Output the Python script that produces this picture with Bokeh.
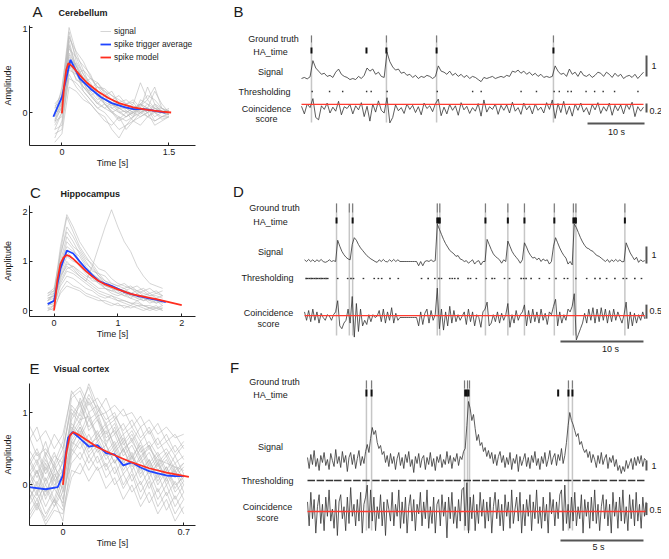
import numpy as np
from bokeh.plotting import figure
from bokeh.models import Range1d, Label, Legend, LegendItem, FixedTicker, CustomJSTickFormatter
from bokeh.layouts import column, row
from bokeh.embed import file_html
from bokeh.resources import INLINE

FONT = "Liberation Sans"

# ------------------------------------------------------------------ data
# Panel A - Cerebellum
a_trace_t = [-0.1, 0.0, 0.1, 0.2, 0.3, 0.4, 0.5, 0.6, 0.7, 0.8, 0.9, 1.0, 1.1, 1.2, 1.3, 1.4, 1.5]
a_traces = [
    [-0.05, 0.1, 0.95, 0.6, 0.45, 0.35, 0.2, 0.15, 0.1, 0.05, 0.0, 0.05, 0.1, 0.05, 0.0, 0.02, -0.02],
    [-0.2, -0.15, 0.55, 0.4, 0.3, 0.2, 0.1, 0.05, 0.0, -0.1, -0.05, 0.0, 0.05, -0.05, 0.0, -0.05, 0.0],
    [0.05, 0.25, 1.0, 0.7, 0.5, 0.4, 0.3, 0.25, 0.15, 0.1, 0.05, 0.05, 0.0, 0.05, 0.02, 0.0, 0.03],
    [-0.3, -0.1, 0.4, 0.35, 0.25, 0.15, 0.05, 0.0, -0.1, -0.2, -0.15, -0.05, 0.0, 0.05, -0.1, -0.05, -0.02],
    [0.0, 0.05, 0.7, 0.55, 0.4, 0.25, 0.3, 0.2, 0.25, 0.1, 0.05, 0.1, 0.35, 0.15, 0.05, 0.0, 0.05],
    [-0.1, 0.15, 0.85, 0.5, 0.3, 0.25, 0.15, 0.2, 0.05, 0.0, 0.02, -0.05, 0.05, 0.3, 0.1, 0.0, -0.03],
    [-0.15, 0.0, 0.6, 0.45, 0.5, 0.3, 0.2, 0.1, 0.0, 0.05, 0.1, 0.15, 0.05, 0.0, 0.1, 0.05, 0.0],
    [0.1, 0.2, 0.75, 0.65, 0.45, 0.3, 0.2, 0.15, 0.1, 0.0, -0.05, 0.0, 0.1, 0.2, 0.15, 0.05, 0.02],
    [-0.25, -0.2, 0.45, 0.3, 0.2, 0.1, 0.0, -0.05, -0.2, -0.3, -0.15, -0.1, -0.05, 0.0, -0.15, -0.1, -0.05],
    [0.05, 0.1, 0.65, 0.55, 0.35, 0.2, 0.25, 0.1, 0.05, 0.1, 0.05, 0.0, 0.1, 0.05, 0.25, 0.1, 0.0],
    [-0.05, 0.3, 0.9, 0.65, 0.55, 0.45, 0.25, 0.15, 0.1, 0.05, 0.05, 0.0, -0.05, 0.0, 0.05, 0.0, 0.02],
    [-0.1, -0.05, 0.5, 0.45, 0.3, 0.2, 0.1, 0.2, 0.15, 0.05, 0.0, -0.1, 0.0, 0.05, 0.0, -0.08, -0.05],
    [0.0, 0.1, 0.8, 0.55, 0.35, 0.4, 0.35, 0.25, 0.2, 0.15, 0.1, 0.05, 0.1, 0.0, 0.05, 0.05, 0.0],
    [-0.2, 0.0, 0.55, 0.5, 0.25, 0.15, 0.05, 0.1, 0.0, -0.05, -0.1, -0.05, 0.15, 0.1, 0.0, 0.0, -0.02],
    [0.08, 0.12, 0.68, 0.5, 0.42, 0.3, 0.22, 0.12, 0.08, 0.12, 0.02, -0.02, 0.05, 0.0, 0.08, 0.02, 0.0],
    [-0.35, -0.25, 0.3, 0.25, 0.15, 0.1, 0.0, -0.1, -0.15, -0.05, -0.2, -0.1, -0.15, -0.05, -0.1, -0.05, -0.05],
    [0.0, 0.2, 0.88, 0.72, 0.6, 0.42, 0.3, 0.28, 0.2, 0.12, 0.15, 0.08, 0.02, 0.1, 0.05, 0.02, 0.0],
    [-0.08, 0.05, 0.62, 0.38, 0.35, 0.22, 0.12, 0.05, 0.12, 0.02, -0.05, 0.02, 0.08, 0.15, 0.3, 0.05, -0.02],
    [0.02, 0.0, 0.52, 0.58, 0.4, 0.28, 0.35, 0.22, 0.15, 0.2, 0.1, 0.12, 0.0, -0.05, 0.02, 0.0, 0.02],
    [-0.12, 0.08, 0.78, 0.48, 0.38, 0.32, 0.18, 0.1, 0.02, -0.08, 0.0, 0.05, -0.02, 0.05, -0.05, 0.0, -0.02],
]
a_sta_t = [-0.12, 0.0, 0.12, 0.25, 0.4, 0.55, 0.7, 0.85, 1.0, 1.15, 1.3, 1.45]
a_sta_y = [-0.05, 0.18, 0.62, 0.40, 0.28, 0.18, 0.11, 0.07, 0.04, 0.04, 0.02, 0.0]
a_model_t = [0.0, 0.03, 0.06, 0.09, 0.15, 0.25, 0.35, 0.5, 0.65, 0.8, 1.0, 1.2, 1.4, 1.53]
a_model_y = [-0.01, 0.3, 0.5, 0.58, 0.54, 0.44, 0.35, 0.25, 0.17, 0.11, 0.06, 0.03, 0.01, 0.0]
a_xticks = [0, 1.5]
a_yticks = [0, 1]

# Panel C - Hippocampus
c_trace_t = [-0.1, 0.0, 0.1, 0.2, 0.3, 0.4, 0.5, 0.6, 0.7, 0.8, 0.9, 1.0, 1.1, 1.2, 1.3, 1.4, 1.5, 1.6, 1.7]
c_traces = [
    [0.2, 0.3, 1.2, 1.9, 1.6, 1.3, 1.1, 0.9, 0.7, 0.6, 0.5, 0.45, 0.4, 0.35, 0.3, 0.3, 0.25, 0.2, 0.2],
    [0.1, 0.15, 0.7, 1.0, 0.85, 0.7, 0.6, 0.5, 0.4, 0.35, 0.3, 0.25, 0.2, 0.15, 0.15, 0.1, 0.1, 0.05, 0.1],
    [0.3, 0.4, 1.0, 1.5, 1.3, 1.2, 1.0, 0.8, 0.75, 0.6, 0.55, 0.5, 0.45, 0.5, 0.4, 0.45, 0.35, 0.4, 0.3],
    [0.0, 0.1, 0.5, 0.7, 0.65, 0.55, 0.45, 0.4, 0.3, 0.25, 0.3, 0.2, 0.15, 0.1, 0.2, 0.1, 0.05, 0.1, 0.0],
    [0.2, 0.35, 1.3, 1.95, 1.7, 1.4, 1.2, 1.0, 0.85, 0.8, 0.65, 0.55, 0.5, 0.45, 0.4, 0.35, 0.3, 0.3, 0.25],
    [0.15, 0.2, 0.8, 1.2, 1.05, 0.9, 0.75, 0.6, 0.6, 0.45, 0.4, 0.35, 0.4, 0.3, 0.25, 0.3, 0.2, 0.25, 0.15],
    [0.35, 0.4, 0.7, 0.9, 0.8, 0.7, 0.6, 0.9, 1.3, 1.7, 2.05, 1.7, 1.4, 1.2, 0.9, 0.7, 0.55, 0.5, 0.45],
    [0.1, 0.2, 0.9, 1.4, 1.25, 1.0, 0.85, 0.7, 0.55, 0.5, 0.45, 0.35, 0.3, 0.25, 0.35, 0.25, 0.2, 0.15, 0.2],
    [0.25, 0.3, 0.6, 0.85, 0.9, 0.8, 0.7, 0.65, 0.55, 0.45, 0.4, 0.45, 0.35, 0.3, 0.3, 0.2, 0.25, 0.2, 0.15],
    [0.05, 0.0, 0.4, 0.6, 0.5, 0.45, 0.35, 0.3, 0.25, 0.15, 0.1, 0.15, 0.05, 0.1, 0.05, 0.0, 0.05, 0.0, 0.05],
    [0.3, 0.35, 1.1, 1.7, 1.5, 1.25, 1.05, 0.95, 0.75, 0.7, 0.55, 0.5, 0.55, 0.45, 0.5, 0.4, 0.45, 0.35, 0.4],
    [0.2, 0.25, 0.75, 1.1, 1.0, 0.95, 0.8, 0.7, 0.65, 0.5, 0.45, 0.4, 0.3, 0.35, 0.25, 0.2, 0.25, 0.15, 0.2],
    [0.05, 0.1, 0.55, 0.8, 0.75, 0.65, 0.55, 0.45, 0.35, 0.3, 0.25, 0.2, 0.2, 0.15, 0.1, 0.1, 0.05, 0.05, 0.05],
    [0.35, 0.45, 1.15, 1.6, 1.4, 1.15, 0.95, 0.85, 0.7, 0.55, 0.5, 0.45, 0.4, 0.45, 0.35, 0.4, 0.3, 0.35, 0.3],
    [0.15, 0.1, 0.65, 0.95, 0.9, 0.75, 0.65, 0.55, 0.45, 0.45, 0.35, 0.3, 0.35, 0.25, 0.2, 0.25, 0.15, 0.2, 0.1],
    [0.0, 0.05, 0.35, 0.5, 0.45, 0.4, 0.3, 0.25, 0.2, 0.2, 0.15, 0.1, 0.1, 0.05, 0.1, 0.05, 0.0, 0.05, 0.0],
    [0.25, 0.3, 0.95, 1.3, 1.2, 1.1, 0.9, 0.75, 0.65, 0.55, 0.5, 0.4, 0.45, 0.35, 0.4, 0.3, 0.35, 0.25, 0.3],
]
c_sta_t = [-0.1, 0.0, 0.1, 0.2, 0.3, 0.4, 0.5, 0.6, 0.7, 0.8, 0.9, 1.0, 1.1, 1.2, 1.3, 1.4, 1.5, 1.6, 1.75]
c_sta_y = [0.13, 0.2, 0.85, 1.22, 1.16, 1.0, 0.85, 0.72, 0.6, 0.55, 0.5, 0.44, 0.38, 0.34, 0.3, 0.27, 0.24, 0.22, 0.17]
c_model_t = [0.0, 0.05, 0.1, 0.15, 0.2, 0.25, 0.3, 0.4, 0.5, 0.6, 0.7, 0.8, 1.0, 1.2, 1.4, 1.6, 1.8, 2.0]
c_model_y = [0.0, 0.6, 0.95, 1.08, 1.13, 1.1, 1.05, 0.93, 0.8, 0.69, 0.6, 0.53, 0.43, 0.34, 0.28, 0.23, 0.17, 0.11]
c_xticks = [0, 1, 2]
c_yticks = [0, 1, 2]

# Panel E - Visual cortex
e_trace_t = [-0.2, -0.15, -0.1, -0.05, 0.0, 0.05, 0.1, 0.15, 0.2, 0.25, 0.3, 0.35, 0.4, 0.45, 0.5, 0.55, 0.6, 0.65, 0.7]
e_traces = [
    [0.2, -0.1, 0.3, 0.0, 0.1, 0.9, 1.1, 0.8, 0.95, 0.6, 0.7, 0.4, 0.55, 0.3, 0.45, 0.2, 0.35, 0.1, 0.25],
    [-0.3, -0.1, -0.4, -0.2, -0.5, 0.4, 0.6, 0.3, 0.5, 0.2, 0.35, 0.0, 0.2, -0.1, 0.1, -0.2, 0.0, -0.3, -0.1],
    [0.5, 0.3, 0.6, 0.2, 0.4, 1.2, 1.3, 1.0, 1.1, 0.8, 0.9, 0.6, 0.75, 0.5, 0.6, 0.4, 0.5, 0.3, 0.4],
    [-0.1, 0.2, -0.2, 0.1, -0.3, 0.6, 0.8, 0.5, 0.7, 0.55, 0.3, 0.5, 0.2, 0.4, 0.1, 0.3, 0.0, 0.2, -0.1],
    [0.0, -0.3, 0.1, -0.2, 0.2, 0.7, 0.9, 0.95, 0.6, 0.75, 0.45, 0.6, 0.3, 0.5, 0.2, 0.35, 0.05, 0.25, 0.1],
    [0.3, 0.5, 0.2, 0.45, 0.15, 1.0, 0.85, 1.15, 0.9, 0.7, 0.85, 0.55, 0.7, 0.45, 0.55, 0.3, 0.45, 0.2, 0.3],
    [-0.4, -0.2, -0.5, -0.3, -0.1, 0.3, 0.45, 0.2, 0.4, 0.1, 0.25, -0.05, 0.15, -0.2, 0.05, -0.3, -0.1, -0.4, -0.2],
    [0.1, 0.3, 0.0, 0.25, 0.05, 0.8, 0.65, 0.9, 0.7, 0.85, 0.5, 0.65, 0.4, 0.55, 0.25, 0.4, 0.15, 0.3, 0.05],
    [0.7, 0.4, 0.5, 0.3, 0.6, 1.3, 1.1, 1.35, 1.0, 1.2, 0.9, 1.05, 0.8, 0.95, 0.7, 0.85, 0.6, 0.7, 0.5],
    [-0.2, 0.0, -0.3, -0.05, -0.25, 0.5, 0.35, 0.6, 0.3, 0.45, 0.15, 0.35, 0.05, 0.25, -0.05, 0.15, -0.15, 0.05, -0.2],
    [0.2, 0.0, 0.35, 0.1, 0.3, 0.95, 1.15, 0.75, 0.9, 0.55, 0.8, 0.45, 0.65, 0.35, 0.55, 0.25, 0.4, 0.15, 0.3],
    [-0.1, -0.35, -0.05, -0.3, 0.0, 0.55, 0.75, 0.45, 0.6, 0.35, 0.5, 0.2, 0.4, 0.1, 0.3, 0.0, 0.2, -0.1, 0.05],
    [0.4, 0.15, 0.45, 0.25, 0.5, 1.05, 0.9, 1.2, 0.95, 1.0, 0.7, 0.85, 0.6, 0.8, 0.5, 0.65, 0.4, 0.55, 0.35],
    [0.0, 0.2, -0.1, 0.15, -0.05, 0.65, 0.85, 0.6, 0.75, 0.45, 0.6, 0.3, 0.45, 0.15, 0.35, 0.05, 0.25, -0.05, 0.15],
    [-0.45, -0.25, -0.55, -0.35, -0.4, 0.1, 0.3, 0.05, 0.25, -0.05, 0.1, -0.2, 0.0, -0.3, -0.1, -0.4, -0.2, -0.5, -0.3],
    [0.25, 0.45, 0.15, 0.4, 0.3, 0.75, 1.0, 1.4, 1.1, 0.9, 1.0, 0.7, 0.8, 0.6, 0.75, 0.5, 0.6, 0.4, 0.55],
    [0.6, 0.8, 0.4, 0.7, 0.5, 1.1, 0.95, 1.25, 1.05, 0.85, 0.95, 0.75, 0.9, 0.65, 0.8, 0.55, 0.7, 0.45, 0.6],
    [-0.5, -0.3, -0.45, -0.2, -0.35, 0.2, 0.15, 0.4, 0.2, 0.3, 0.0, 0.15, -0.1, 0.05, -0.25, -0.05, -0.35, -0.15, -0.4],
    [0.1, -0.15, 0.25, -0.05, 0.35, 0.85, 0.7, 1.0, 0.65, 0.8, 0.55, 0.7, 0.35, 0.6, 0.3, 0.45, 0.2, 0.4, 0.15],
    [-0.25, 0.05, -0.15, 0.2, -0.2, 0.45, 0.65, 0.4, 0.55, 0.25, 0.45, 0.15, 0.3, 0.0, 0.2, -0.1, 0.1, -0.2, 0.0],
    [0.35, 0.1, 0.4, 0.05, 0.2, 0.7, 1.2, 0.9, 1.0, 0.65, 0.75, 0.5, 0.6, 0.4, 0.5, 0.35, 0.3, 0.25, 0.2],
    [0.85, 0.6, 0.75, 0.5, 0.7, 1.25, 1.35, 1.1, 1.2, 1.0, 1.1, 0.95, 1.0, 0.8, 0.9, 0.7, 0.8, 0.65, 0.7],
    [-0.05, -0.2, 0.0, -0.25, 0.1, 0.6, 0.5, 0.7, 0.45, 0.55, 0.3, 0.5, 0.25, 0.35, 0.15, 0.3, 0.1, 0.2, 0.0],
    [0.15, 0.35, 0.05, 0.3, -0.1, 0.5, 0.8, 0.55, 0.65, 0.4, 0.55, 0.25, 0.4, 0.2, 0.35, 0.1, 0.25, 0.0, 0.1],
]
e_sta_t = [-0.2, -0.1, -0.03, 0.0, 0.03, 0.056, 0.1, 0.15, 0.2, 0.25, 0.3, 0.35, 0.4, 0.45, 0.5, 0.55, 0.6, 0.65, 0.7]
e_sta_y = [-0.03, -0.06, -0.03, 0.13, 0.65, 0.73, 0.64, 0.53, 0.55, 0.44, 0.42, 0.27, 0.31, 0.24, 0.19, 0.16, 0.13, 0.12, 0.12]
e_model_t = [0.0, 0.02, 0.04, 0.06, 0.1, 0.15, 0.2, 0.3, 0.4, 0.5, 0.6, 0.73]
e_model_y = [0.0, 0.45, 0.68, 0.73, 0.68, 0.6, 0.52, 0.41, 0.31, 0.23, 0.17, 0.11]
e_xticks = [0, 0.7]
e_yticks = [0, 1]

# Panel B - Cerebellum recording (0.5 s sampling)
b_dt = 0.5
b_signal = [
    0.0, 0.05, -0.02, 0.08, 0.85, 0.5, 0.35, 0.2, 0.25, 0.1,
    0.15, 0.05, 0.3, 0.45, 0.2, 0.1, 0.05, -0.05, 0.0, -0.05,
    0.1, 0.0, 0.15, 0.5, 0.35, 0.45, 0.2, 0.3, 0.1, 0.05,
    1.25, 0.8, 0.55, 0.4, 0.45, 0.25, 0.3, 0.15, 0.2, 0.05,
    0.15, 0.0, 0.1, 0.05, 0.15, 0.1, 0.0, 0.1, 0.6, 0.35,
    0.3, 0.2, 0.35, 0.15, 0.25, 0.1, 0.2, 0.05, 0.15, 0.0,
    0.1, 0.05, -0.05, -0.15, 0.05, 0.0, 0.05, 0.1, 0.0, 0.05,
    0.1, 0.05, 0.15, 0.1, 0.35, 0.3, 0.4, 0.25, 0.35, 0.2,
    0.3, 0.15, 0.25, 0.1, 0.2, 0.05, 0.1, 0.05, 0.1, 0.6,
    0.35, 0.2, 0.25, 0.1, 0.45, 0.2, 0.3, 0.1, 0.35, 0.15,
    0.1, 0.2, 0.05, 0.15, 0.3, 0.25, 0.1, 0.3, 0.2, 0.05,
    0.25, 0.1, 0.2, 0.0, 0.1, 0.15, 0.05, 0.2, 0.0, 0.15,
    0.3,
]
b_coin = [
    0.05, -0.12, 0.1, 0.02, 0.22, -0.2, -0.25, 0.06, -0.02, 0.12,
    -0.1, 0.03, -0.06, 0.16, -0.14, 0.04, 0.0, 0.09, -0.12, 0.06,
    -0.03, 0.13, -0.18, 0.05, -0.28, 0.1, -0.08, 0.17, -0.04, -0.1,
    0.24, -0.32, -0.2, 0.08, -0.05, 0.02, -0.11, 0.1, -0.02, 0.07,
    -0.09, 0.04, -0.14, 0.12, 0.0, 0.06, -0.07, 0.11, 0.21, -0.16,
    0.03, -0.12, 0.09, -0.04, 0.06, -0.15, 0.13, -0.03, 0.05, -0.11,
    0.02, -0.06, 0.11, -0.17, 0.19, -0.08, 0.04, -0.02, 0.1, -0.13,
    0.07, -0.04, 0.08, -0.1, 0.14, -0.06, 0.02, -0.13, 0.12, -0.03,
    0.06, -0.12, 0.1, -0.04, 0.03, -0.1, 0.13, -0.02, 0.19, -0.22,
    0.11, -0.09, 0.16, -0.13, 0.05, -0.17, 0.1, -0.04, 0.12, -0.08,
    0.02, -0.14, 0.09, -0.03, 0.13, -0.11, 0.04, -0.06, 0.12, -0.15,
    0.07, -0.05, 0.08, -0.12, 0.1, -0.02, 0.14, -0.18, 0.04, -0.06,
    0.03,
]
b_ground_truth = [1.75, 14.9, 23.7, 44.2]
b_ha_time = [1.75, 11.4, 14.9, 23.7, 44.2]
b_threshold_events = [1.75, 4.8, 7.1, 11.3, 12.1, 14.9, 23.7, 29.9, 31.4, 38.4, 41.1, 44.2,
                      45.1, 46.6, 47.2, 49.8, 51.3, 52.8, 54.8, 58.9]
b_coin_threshold = 0.09

# Panel D - Hippocampus recording (0.25 s sampling)
d_dt = 0.25
d_signal = [
    0.1, 0.0, 0.12, 0.0, 0.1, -0.02, 0.1, 0.0, 0.12, 0.0, -0.05, 0.0, 0.1, 0.0, 0.05, 0.0,
    1.25, 0.9, 0.6, 0.4, 0.25, 0.15, 0.1, 1.0, 1.4, 1.25, 1.0, 0.8, 0.65, 0.5, 0.35, 0.25,
    0.15, 0.08, 0.0, -0.05, 0.1, 0.0, 0.12, 0.0, -0.02, 0.1, 0.0, 0.12, 0.0, 0.1, 0.0, 0.0,
    0.0, 0.0, 0.0, 0.0, 0.0, 0.0, 0.0, -0.25, 0.0, -0.25, 0.0, 0.05, 0.0, 0.1, 0.0, 0.05,
    2.2, 1.9, 1.6, 1.3, 1.05, 0.85, 0.65, 0.55, 0.45, 0.3, 0.35, 0.15, 0.1, 0.0, 0.05, -0.1,
    0.0, 0.1, -0.15, 0.0, 0.05, -0.2, 0.0, 0.0, 1.3, 1.0, 0.7, 0.45, 0.3, 0.2, 0.1, -0.1,
    0.1, 0.0, 1.2, 0.9, 0.6, 0.4, 0.25, 0.1, -0.1, 0.1, 1.1, 0.85, 0.55, 0.35, 0.2, 0.25,
    0.1, 0.2, 0.0, 0.15, 0.05, 0.1, -0.15, 0.0, 0.9, 1.4, 1.1, 0.8, 0.55, 0.35, 0.2, -0.15,
    0.0, -0.2, 2.2, 2.0, 1.7, 1.4, 1.15, 0.95, 0.8, 0.75, 0.65, 0.6, 0.45, 0.35, 0.3, 0.2,
    0.1, 0.0, 0.12, -0.05, 0.1, 0.0, 0.12, 0.0, 0.1, -0.02, 0.0, 1.1, 0.8, 0.5, 0.3, 0.1,
    0.25, -0.05, 0.1, 0.0, 0.05,
]
d_coin = [
    0.2, -0.1, 0.25, -0.15, 0.3, -0.1, 0.2, -0.2, 0.15, 0.0, -0.1, 0.1, 0.05, -0.1, 0.1, 0.2,
    0.6, -0.3, -0.4, -0.2, -0.1, 0.3, -0.2, 0.75, -0.7, 0.5, -0.5, 0.3, -0.3, -0.1, -0.25, 0.1,
    -0.15, 0.1, 0.0, 0.05, 0.25, -0.15, 0.3, -0.2, 0.2, -0.1, 0.35, -0.2, 0.15, -0.1, 0.0, 0.0,
    0.0, 0.0, 0.0, 0.0, 0.0, 0.0, 0.0, -0.3, 0.2, -0.25, 0.15, 0.3, -0.2, 0.25, -0.1, 0.1,
    1.05, -0.4, 0.3, -0.45, 0.2, -0.3, 0.4, -0.2, 0.25, -0.15, 0.1, -0.1, 0.05, 0.2, -0.25, 0.3,
    -0.15, 0.2, -0.3, 0.1, 0.0, -0.35, 0.2, 0.3, 0.55, -0.3, -0.2, 0.1, -0.15, 0.2, -0.2, 0.15,
    -0.1, 0.1, 0.5, -0.35, 0.1, -0.2, 0.25, -0.1, 0.1, 0.2, 0.45, -0.3, 0.25, -0.2, 0.3, -0.15,
    0.2, -0.2, 0.3, -0.1, 0.15, -0.25, 0.2, 0.1, 0.4, 0.65, -0.3, 0.2, -0.2, 0.1, -0.1, 0.3,
    0.2, 0.4, 0.85, -0.8, -0.6, -0.4, -0.2, 0.15, -0.2, 0.3, -0.1, 0.35, -0.2, 0.3, -0.15, 0.35,
    -0.1, 0.3, -0.2, 0.25, -0.15, 0.3, -0.1, 0.2, 0.0, -0.2, 0.1, 0.55, -0.4, 0.2, -0.3, 0.15,
    -0.2, 0.1, -0.1, 0.2, -0.05,
]
d_ground_truth = [3.86, 5.4, 5.8, 16.0, 16.3, 21.8, 24.5, 26.5, 30.1, 32.4, 32.7, 38.6]
d_ha_time = [3.86, 5.8, 16.0, 16.15, 16.3, 21.8, 24.5, 26.5, 30.1, 32.4, 32.55, 32.7, 38.6]
d_threshold_events = [0.1, 0.3, 0.5, 0.7, 0.9, 1.1, 1.3, 1.5, 1.7, 1.9, 2.1, 2.3, 2.5, 2.7, 3.9,
                      5.1, 5.5, 5.8, 7.0, 8.3, 8.8, 9.2, 10.2, 11.2, 14.0, 14.8, 15.6, 16.1, 16.4,
                      17.4, 17.7, 18.0, 18.4, 19.6, 19.9, 20.6, 21.8, 22.5, 22.8, 24.0, 24.6, 26.0,
                      26.3, 26.6, 27.2, 28.2, 29.4, 30.2, 31.2, 31.6, 32.6, 33.9, 34.9, 35.5, 36.3,
                      37.3, 38.3, 38.7, 39.7, 40.5]
d_coin_threshold = 0.07

# Panel F - Visual cortex recording (0.1 s sampling)
f_dt = 0.1
f_signal = [
    0.3, -0.8, 0.6, -0.4, 1.0, -0.6, 0.2, -1.0, 0.5, -0.2,
    0.8, -0.5, 0.1, -0.9, 0.7, 0.0, -0.6, 1.1, -0.3, 0.4,
    -0.7, 0.9, -0.2, 0.5, -1.1, 0.3, 0.8, -0.4, 0.6, -0.8,
    0.2, 1.0, -0.5, 0.4, -0.3, 0.9, 1.6, 0.8, 2.2, 3.3,
    2.6, 3.0, 1.8, 1.2, 1.5, 0.6, 0.9, -0.2, 0.5, -0.6,
    0.7, -0.3, 0.4, -0.9, 0.2, 0.8, -0.5, 0.3, -0.8, 0.6,
    -0.2, 0.9, -0.6, 0.1, -1.2, 0.4, -0.3, 0.7, -0.7, 0.2,
    0.5, -0.9, 0.3, -0.4, 0.8, -0.6, 0.2, -1.0, 0.4, -0.2,
    0.6, -0.7, 0.1, -0.4, 0.9, -0.3, 0.5, -0.8, 0.3, -0.1,
    0.7, -0.5, 0.4, 0.1, 0.9, 1.2, 3.5, 5.9, 5.2, 4.0,
    4.6, 3.2, 2.0, 2.6, 1.5, 1.8, 0.9, 1.3, 0.4, 1.0,
    0.2, 0.8, -0.3, 0.6, -0.5, 0.4, 0.9, -0.2, 0.5, -0.7,
    0.3, -0.4, 0.8, -0.9, 0.2, -0.3, 0.6, -1.1, 0.4, -0.5,
    0.1, 0.7, -0.6, 0.3, -0.8, 0.5, -0.2, 0.9, -0.5, 0.2,
    -0.9, 0.4, -0.3, 0.8, -0.6, 0.1, 1.0, -0.4, 0.3, 0.7,
    -0.5, 0.6, 0.0, 1.2, -0.3, 0.5, 1.8, 3.5, 4.8, 4.0,
    3.6, 3.0, 2.4, 2.7, 1.6, 1.9, 1.2, 0.8, 1.1, 0.3,
    0.9, -0.2, 0.6, 0.1, -0.7, 0.5, -0.3, 0.8, -0.4, 0.2,
    0.6, -0.8, 0.3, -0.2, 0.5, -0.6, 0.1, -1.0, -0.5, -1.3,
    -0.6, -1.1, 0.0, -0.8, -0.3, 0.2, -0.9, 0.3, -0.5, 0.4,
    -0.3, 0.5, -0.6, 0.2, 0.0,
]
f_coin = [
    0.4, -0.6, 0.8, -0.3, 0.5, -0.9, 0.2, 0.7, -0.5, 0.3,
    -0.8, 0.6, -0.2, 0.9, -0.4, 0.1, -0.7, 0.5, -1.0, 0.4,
    0.7, -0.3, 0.2, -0.8, 0.6, -0.5, 1.0, -0.2, 0.3, -0.6,
    0.5, -0.4, 0.8, -0.9, 0.3, 0.6, 1.1, -0.7, 0.9, -0.4,
    0.6, -0.8, 0.2, -0.3, 0.7, -0.6, 0.4, -1.0, 0.5, 0.1,
    -0.4, 0.8, -0.6, 0.3, -0.2, 0.9, -0.7, 0.4, -0.5, 0.6,
    -0.9, 0.2, 0.7, -0.4, 0.5, -0.8, 0.3, -0.1, 0.8, -0.6,
    0.4, -0.3, 0.9, -0.7, 0.2, -0.5, 0.6, -0.9, 0.3, 0.5,
    -0.6, 0.7, -0.2, 0.4, -1.1, 0.6, -0.3, 0.8, -0.5, 0.2,
    -0.7, 0.5, -0.4, 0.9, 1.0, -0.6, 1.2, -0.9, 0.6, -0.3,
    0.7, -0.8, 0.3, -0.5, 0.8, -0.2, 0.5, -0.7, 0.4, -0.4,
    0.6, -0.9, 0.2, 0.8, -0.3, 0.5, -0.6, 0.3, -0.8, 0.7,
    -0.2, 0.4, -0.7, 0.9, -0.5, 0.1, 0.6, -0.4, 0.8, -0.9,
    0.3, -0.6, 0.5, -0.2, 0.7, -0.8, 0.4, -0.3, 0.9, -0.5,
    0.2, -0.7, 0.6, -0.4, 0.3, -0.9, 0.8, -0.1, 0.5, -0.6,
    0.4, -0.3, 0.7, 0.9, -0.8, 1.1, -0.5, 0.3, -0.7, 0.6,
    -0.4, 0.8, -0.6, 0.2, -0.3, 0.7, -0.9, 0.5, -0.2, 0.4,
    -0.7, 0.6, -0.4, 0.9, -0.5, 0.3, -0.8, 0.2, 0.7, -0.3,
    0.5, -0.6, 0.3, -0.9, 0.8, -0.2, 0.4, -0.7, 0.6, -0.4,
    0.9, -0.5, 0.2, -0.8, 0.7, -0.3, 0.5, -0.6, 0.8, -0.4,
    0.3, -0.7, 0.6, -0.2, 0.4,
]
f_ground_truth = [3.55, 3.86, 9.46, 9.64, 9.76, 15.72, 15.96]
f_ha_time = [3.55, 3.86, 9.5, 9.6, 9.7, 15.1, 15.72, 15.96]
f_threshold_events = [0.0, 0.55, 1.1, 1.6, 2.2, 2.75, 3.3, 3.9, 4.45, 5.0, 5.5, 6.1, 6.6, 7.2, 7.75,
                      8.3, 8.8, 9.4, 9.95, 10.5, 11.05, 11.6, 12.1, 12.7, 13.25, 13.8, 14.3, 14.9,
                      15.45, 16.0, 16.55, 17.1, 17.6, 18.2, 18.75, 19.3, 19.85]
f_coin_threshold = 0.0

row_labels = ["Ground truth", "HA_time", "Signal", "Thresholding", "Coincidence", "score"]

# ------------------------------------------------------------------ style / layout
LEFT_W = 200
RIGHT_W = 461
FRAME_L = 26
FRAME_R = 195
GRAY = "#b8b8b8"
BLUE = "#1f45ff"
RED = "#ff2d1f"
TXT = "#1a1a1a"


def add_text(p, sx, sy, text, size="9px", align="center", style="normal", angle=0.0):
    p.add_layout(Label(x=sx, y=sy, x_units="screen", y_units="screen", text=text,
                       text_font=FONT, text_font_size=size, text_align=align,
                       text_baseline="middle", text_font_style=style, angle=angle,
                       text_color=TXT))


def blank(width, height, bl, br):
    p = figure(width=width, height=height, title=None,
               x_range=Range1d(0, 1), y_range=Range1d(0, 1),
               output_backend="svg", toolbar_location=None,
               x_axis_location=None, y_axis_location=None,
               min_border_left=bl, min_border_right=br, min_border_top=0, min_border_bottom=0)
    p.outline_line_color = None
    p.grid.visible = False
    p.background_fill_color = "white"
    p.border_fill_color = "white"
    return p


def header(img_top, height, letter, title, letter_pos, title_pos):
    p = blank(LEFT_W, height, FRAME_L, LEFT_W - FRAME_R)
    bottom = img_top + height
    add_text(p, letter_pos[0] - FRAME_L, bottom - letter_pos[1], letter, size="15px")
    add_text(p, title_pos[0] - FRAME_L, bottom - title_pos[1], title, align="left", style="bold")
    return p


def left_panel(frame_top, fig_bottom, frame_bottom, x0px, pps, y0px, ppu, xticks, yticks,
               t_trace, traces, sta_t, sta_y, mod_t, mod_y, legend=False):
    p = figure(width=LEFT_W, height=fig_bottom - frame_top, title=None,
               x_range=Range1d((FRAME_L - x0px) / pps, (FRAME_R - x0px) / pps),
               y_range=Range1d((y0px - frame_bottom) / ppu, (y0px - frame_top) / ppu),
               output_backend="svg", toolbar_location=None,
               min_border_left=FRAME_L, min_border_right=LEFT_W - FRAME_R,
               min_border_top=0, min_border_bottom=fig_bottom - frame_bottom)
    p.outline_line_color = None
    p.grid.visible = False
    p.background_fill_color = "white"
    p.border_fill_color = "white"
    fmt = CustomJSTickFormatter(code="return String(Math.round(tick*10)/10);")
    for ax, ticks in ((p.xaxis[0], xticks), (p.yaxis[0], yticks)):
        ax.ticker = FixedTicker(ticks=ticks)
        ax.formatter = fmt
        ax.axis_line_color = "#222"
        ax.axis_line_width = 1
        ax.major_tick_in = 3
        ax.major_tick_out = 0
        ax.major_tick_line_color = "#222"
        ax.minor_tick_line_color = None
        ax.major_label_text_font = FONT
        ax.major_label_text_font_size = "9px"
        ax.major_label_text_color = TXT
        ax.axis_label_text_font = FONT
        ax.axis_label_text_font_size = "9px"
        ax.axis_label_text_font_style = "normal"
        ax.axis_label_text_color = TXT
    p.xaxis.axis_label = "Time [s]"
    p.yaxis.axis_label = "Amplitude"
    p.xaxis.major_label_standoff = 3
    p.xaxis.axis_label_standoff = 0
    p.yaxis.major_label_standoff = 2
    p.yaxis.axis_label_standoff = 6

    r_sig = p.multi_line(xs=[t_trace] * len(traces), ys=traces, line_color=GRAY,
                         line_width=0.7, line_alpha=0.85)
    r_sta = p.line(sta_t, sta_y, line_color=BLUE, line_width=1.8)
    r_mod = p.line(mod_t, mod_y, line_color=RED, line_width=1.8)

    if legend:
        lg = Legend(items=[LegendItem(label="signal", renderers=[r_sig]),
                           LegendItem(label="spike trigger average", renderers=[r_sta]),
                           LegendItem(label="spike model", renderers=[r_mod])],
                    location=(97 - FRAME_L, frame_bottom - 63), label_text_font=FONT,
                    label_text_font_size="8.4px",
                    label_text_color=TXT, glyph_width=11, glyph_height=12, label_height=12,
                    label_standoff=3, spacing=1, padding=0, margin=0,
                    background_fill_alpha=0, border_line_alpha=0)
        p.add_layout(lg)
    return p


def scaled_range(base, k, top, bottom):
    return Range1d((base - bottom) / k, (base - top) / k)


def right_panel(img_top, height, x0px, pps, dt, signal, coin, gt, ha, thr, thr_len, coin_th,
                rows, sig_bar, coin_bar, bar_x, time_bar, texts):
    left = LEFT_W
    bottom = img_top + height
    p = figure(width=RIGHT_W, height=height, title=None,
               x_range=Range1d((left - x0px) / pps, (left + RIGHT_W - x0px) / pps),
               y_range=Range1d(bottom, img_top),
               output_backend="svg", toolbar_location=None,
               x_axis_location=None, y_axis_location=None,
               min_border_left=0, min_border_right=0, min_border_top=0, min_border_bottom=0)
    p.outline_line_color = None
    p.grid.visible = False
    p.background_fill_color = "white"
    p.border_fill_color = "white"
    p.extra_y_ranges = {
        "sig": scaled_range(rows["sig_base"], rows["sig_k"], img_top, bottom),
        "coin": scaled_range(rows["coin_base"], rows["coin_k"], img_top, bottom),
    }
    t_sig = [i * dt for i in range(len(signal))]
    t_coin = [i * dt for i in range(len(coin))]
    n = len(gt)
    p.segment(x0=gt, x1=gt, y0=[rows["vline"][0]] * n, y1=[rows["vline"][1]] * n,
              line_color="#c6c6c6", line_width=1.5)
    p.segment(x0=gt, x1=gt, y0=[rows["gt"][0]] * n, y1=[rows["gt"][1]] * n,
              line_color="#777777", line_width=1)
    m = len(ha)
    p.segment(x0=ha, x1=ha, y0=[rows["ha"][0]] * m, y1=[rows["ha"][1]] * m,
              line_color="#111111", line_width=2)
    p.line(t_sig, signal, y_range_name="sig", line_color="#333333", line_width=0.8)
    k = len(thr)
    p.segment(x0=thr, x1=[v + thr_len for v in thr], y0=[rows["thr"]] * k, y1=[rows["thr"]] * k,
              line_color="#333333", line_width=1.3)
    p.line(t_coin, coin, y_range_name="coin", line_color="#333333", line_width=0.8)
    p.segment(x0=[0], x1=[t_coin[-1]], y0=[coin_th], y1=[coin_th], y_range_name="coin",
              line_color="#ff3b30", line_width=1.3)
    p.segment(x0=[bar_x], x1=[bar_x], y0=[sig_bar[0]], y1=[sig_bar[0] + sig_bar[1]],
              y_range_name="sig", line_color="#555555", line_width=2)
    p.segment(x0=[bar_x], x1=[bar_x], y0=[coin_bar[0]], y1=[coin_bar[0] + coin_bar[1]],
              y_range_name="coin", line_color="#555555", line_width=2)
    p.segment(x0=[time_bar[0] - time_bar[1]], x1=[time_bar[0]], y0=[time_bar[2]], y1=[time_bar[2]],
              line_color="#555555", line_width=2)

    for (txt, ix, iy, size, align) in texts:
        add_text(p, ix - left, bottom - iy, txt, size=size, align=align)
    return p


# ---------------- left column
hA = header(0, 25, "A", "Cerebellum", (34, 11), (55, 12))
pA = left_panel(25, 182, 145, 59, 72.67, 112, 85, a_xticks, a_yticks,
                a_trace_t, a_traces, a_sta_t, a_sta_y, a_model_t, a_model_y, legend=True)
hC = header(182, 23, "C", "Hippocampus", (32, 192), (57, 193))
pC = left_panel(205, 358, 316, 51, 65, 310, 49.15, c_xticks, c_yticks,
                c_trace_t, c_traces, c_sta_t, c_sta_y, c_model_t, c_model_y)
hE = header(358, 25, "E", "Visual cortex", (31, 368), (50, 368))
pE = left_panel(383, 551, 525, 60, 175.7, 484.4, 72.4, e_xticks, e_yticks,
                e_trace_t, e_traces, e_sta_t, e_sta_y, e_model_t, e_model_y)

# ---------------- right column
pB = right_panel(0, 182, 301, 5.7, b_dt, b_signal, b_coin, b_ground_truth, b_ha_time,
                 b_threshold_events, 0.25, b_coin_threshold,
                 {"gt": (35, 42), "ha": (47, 53), "vline": (35, 122), "thr": 91,
                  "sig_base": 78, "sig_k": 21, "coin_base": 108, "coin_k": 45},
                 (0.1, 1.0), (-0.09, 0.2), 60.53, (60.18, 10, 123),
                 [("B", 238, 11, "15px", "center"),
                  (row_labels[0], 273, 38, "9px", "center"), (row_labels[1], 270, 51, "9px", "center"),
                  (row_labels[2], 270, 71, "9px", "center"), (row_labels[3], 264, 91, "9px", "center"),
                  (row_labels[4], 266, 108, "9px", "center"), (row_labels[5], 266, 118, "9px", "center"),
                  ("1", 651, 65, "9px", "left"), ("0.2", 649, 110, "9px", "left"),
                  ("10 s", 616, 131, "9px", "center")])
pD = right_panel(182, 176, 304, 8.3, d_dt, d_signal, d_coin, d_ground_truth, d_ha_time,
                 d_threshold_events, 0.2, d_coin_threshold,
                 {"gt": (203, 212), "ha": (217, 223), "vline": (203, 335), "thr": 278,
                  "sig_base": 261, "sig_k": 17, "coin_base": 317, "coin_k": 28},
                 (-0.12, 1.0), (-0.04, 0.5), 41.2, (40.84, 10, 341),
                 [("D", 238, 191, "15px", "center"),
                  (row_labels[0], 274, 207, "9px", "center"), (row_labels[1], 270, 221, "9px", "center"),
                  (row_labels[2], 270, 251, "9px", "center"), (row_labels[3], 267, 277, "9px", "center"),
                  (row_labels[4], 268, 312, "9px", "center"), (row_labels[5], 268, 323, "9px", "center"),
                  ("1", 651, 254, "9px", "left"), ("0.5", 649, 310, "9px", "left"),
                  ("10 s", 610, 348, "9px", "center")])
pF = right_panel(358, 193, 307, 16.6, f_dt, f_signal, f_coin, f_ground_truth, f_ha_time,
                 f_threshold_events, 0.45, f_coin_threshold,
                 {"gt": (380, 388), "ha": (389, 396), "vline": (380, 530), "thr": 480,
                  "sig_base": 460, "sig_k": 10, "coin_base": 511, "coin_k": 24},
                 (-1.0, 1.0), (-0.15, 0.5), 20.42, (20.24, 5, 540),
                 [("F", 234, 367, "15px", "center"),
                  (row_labels[0], 274, 381, "9px", "center"), (row_labels[1], 270, 394, "9px", "center"),
                  (row_labels[2], 270, 446, "9px", "center"), (row_labels[3], 267, 480, "9px", "center"),
                  (row_labels[4], 267, 506, "9px", "center"), (row_labels[5], 267, 517, "9px", "center"),
                  ("1", 651, 465, "9px", "left"), ("0.5", 649, 509, "9px", "left"),
                  ("5 s", 598, 546, "9px", "center")])

layout = row(column(hA, pA, hC, pC, hE, pE), column(pB, pD, pF))
open("out.html", "w").write(file_html(layout, INLINE))
